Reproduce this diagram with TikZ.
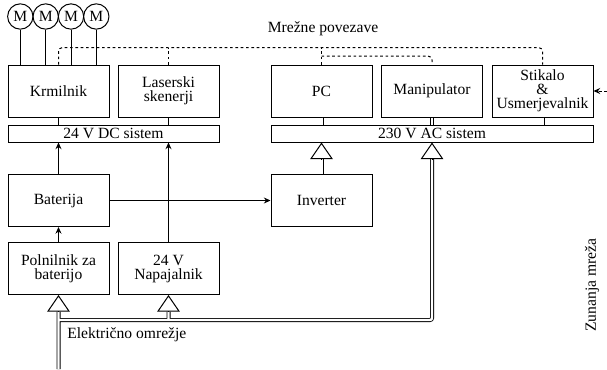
\documentclass[tikz,border=0pt]{standalone}
\usepackage{fontspec}
\setmainfont{Liberation Serif}
\newfontfamily\labelfont{Liberation Serif}
\usetikzlibrary{arrows.meta,calc}
\begin{document}
\begin{tikzpicture}[x=0.75pt,y=-0.75pt,
  font=\labelfont\fontsize{11.7}{10.5}\selectfont,
  every node/.style={inner sep=0pt},
  box/.style={draw, line width=0.75pt, minimum width=75.75pt, minimum height=39pt, align=center},
  bar/.style={draw, line width=0.75pt, minimum height=12.75pt},
  motor/.style={draw, circle, line width=0.75pt, minimum size=19pt},
  wire/.style={line width=0.75pt},
  feed/.style={wire, -{Stealth[length=5pt,width=4.5pt]}},
  net/.style={line width=0.75pt, dash pattern=on 2pt off 2pt, rounded corners=3pt},
  dbl/.style={double, double distance=1.8pt, line width=0.6pt, rounded corners=1.5pt},
  bigtip/.style={line width=0.75pt, -{Triangle[width=17pt,length=12.5pt,fill=white,line width=0.75pt]}},
]
\useasboundingbox (0,0) rectangle (607,369);

% blocks
\node[box] (kr)  at (58.5,91)  {Krmilnik};
\node[box] (las) at (168.5,91) {Laserski\\skenerji};
\node[box] (pc)  at (321.5,91) {PC};
\node[box] (man) at (432,91)   {Manipulator};
\node[box] (stk) at (542.5,91) {Stikalo\\\&\\Usmerjevalnik};
\node[bar, minimum width=158.25pt] (dc) at (113.5,133.5) {24 V DC sistem};
\node[bar, minimum width=241.5pt]  (ac) at (432,133.5)   {230 V AC sistem};
\node[box] (bat) at (58.5,200.5)  {Baterija};
\node[box] (inv) at (321.5,200.5) {Inverter};
\node[box] (pol) at (58.5,268.5)  {Polnilnik za\\baterijo};
\node[box] (nap) at (168.5,268.5) {24 V\\Napajalnik};

% motors on the controller
\foreach \i/\x in {1/20.3,2/45.7,3/71,4/96.3} {
  \node[motor] (m\i) at (\x,16.5) {M};
  \draw[wire] (m\i.south) -- (m\i.south |- kr.north);
}

% network links
\coordinate (bus)  at (300,47.5);
\coordinate (bus2) at (300,56);
\coordinate (ext)  at (607,91);
\node (netlbl) at (323,29) {Mrežne povezave};
\draw[net] (kr.north) -- (kr.north |- bus) -- (stk.north |- bus) -- (stk.north);
\draw[net] (las.north) -- (las.north |- bus);
\draw[net] (pc.north) -- (pc.north |- bus);
\draw[net] (pc.north |- bus2) -- (man.north |- bus2) -- (man.north);
\draw[net, -{Stealth[length=5pt,width=4.5pt]}] (ext) -- (stk.east);

% 24 V DC side
\draw[wire] (kr.south) -- (kr.south |- dc.north);
\draw[wire] (las.south) -- (las.south |- dc.north);
\draw[feed] (bat.north) -- (bat.north |- dc.south);
\draw[feed] (nap.north) -- (nap.north |- dc.south);
\draw[feed] (pol.north) -- (bat.south);
\draw[feed] (bat.east) -- (inv.west);

% 230 V AC side
\foreach \n in {pc,man,stk}
  \draw[dbl] (\n.south) -- (\n.south |- ac.north);
\draw[dbl] (inv.north) -- ($(inv.north |- ac.south)+(0,16.5)$);
\draw[bigtip] ($(inv.north |- ac.south)+(0,16.5)$) -- (inv.north |- ac.south);

% mains supply
\coordinate (src) at (58.5,369);
\coordinate (jn)  at (58.5,320);
\draw[dbl] (src) -- ($(pol.south)+(0,16.5)$)
  (jn) -- (jn -| ac.south) -- ($(ac.south)+(0,16.5)$)
  (jn -| nap.south) -- ($(nap.south)+(0,16.5)$);
\foreach \n in {pol,nap,ac}
  \draw[bigtip] ($(\n.south)+(0,16.5)$) -- (\n.south);

\node[anchor=west] (grid) at (67,335) {Električno omrežje};
\node[rotate=90] (outer) at (592,285) {Zunanja mreža};
\end{tikzpicture}
\end{document}
